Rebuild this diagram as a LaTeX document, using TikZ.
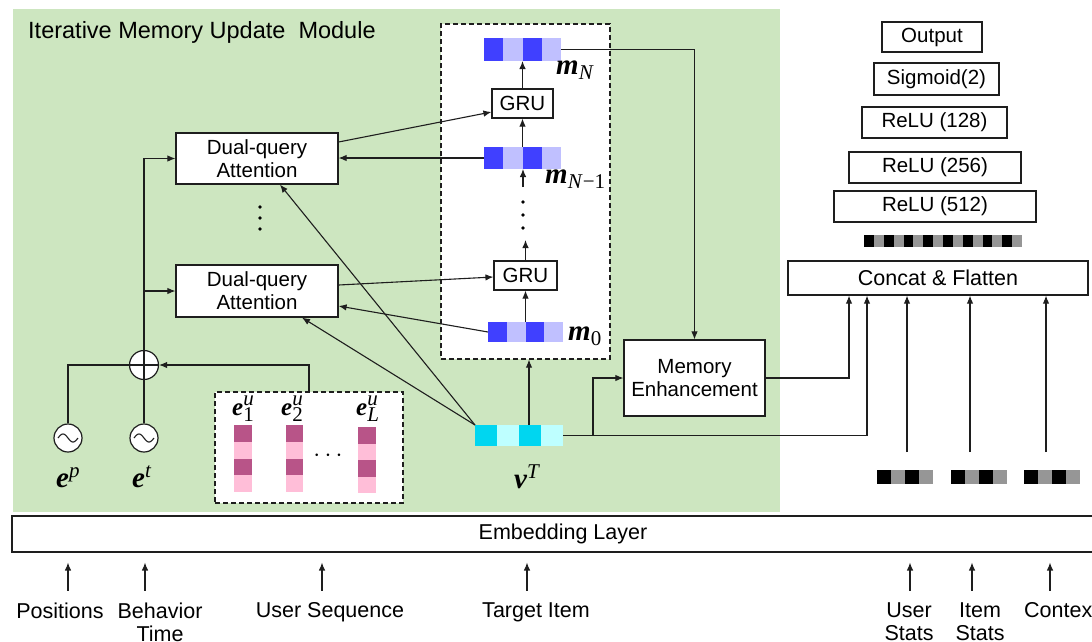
\documentclass[tikz,border=0pt]{standalone}
\usepackage{fontspec}
\setmainfont{Liberation Sans}
\newfontfamily\tms{Liberation Serif}
\usetikzlibrary{arrows.meta}
\definecolor{bgG}{RGB}{205,230,192}
\definecolor{bD}{RGB}{64,64,255}
\definecolor{bL}{RGB}{192,192,255}
\definecolor{pD}{RGB}{184,84,136}
\definecolor{pL}{RGB}{255,190,216}
\definecolor{cD}{RGB}{0,214,240}
\definecolor{cL}{RGB}{190,255,255}
\definecolor{gM}{RGB}{150,150,150}
\definecolor{ink}{RGB}{30,30,30}
\newcommand\bfit{\tms\bfseries\itshape}
\newcommand\smi{\tms\mdseries\itshape\fontsize{21}{21}\selectfont}
\newcommand\smr{\tms\mdseries\upshape\fontsize{21}{21}\selectfont}
\newcommand\hq[6]{\foreach \k/\c in {0/#5,1/#6,2/#5,3/#6}{\fill[\c] ({#1+\k*#3},#2) rectangle ++(#3,#4);}}
\newcommand\vq[6]{\foreach \k/\c in {0/#5,1/#6,2/#5,3/#6}{\fill[\c] (#1,{#2+\k*#4}) rectangle ++(#3,#4);}}
\tikzset{
 box/.style={draw=ink, fill=white, line width=1.2pt, inner sep=0pt, align=center, font=\fontsize{20.5}{23}\selectfont},
 arr/.style={draw=ink, line width=1.1pt, -{Latex[length=8pt,width=6.5pt]}},
 ln/.style={draw=ink, line width=1.1pt},
 dbox/.style={draw=ink, fill=white, line width=1.2pt, dash pattern=on 5pt off 3pt, inner sep=0pt},
 lbl/.style={inner sep=0pt, font=\fontsize{21.5}{23}\selectfont, align=center},
 vec/.style={inner sep=0pt, outer sep=0pt},
 ml/.style={inner sep=0pt, font=\fontsize{29}{30}\selectfont},
 sml/.style={inner sep=0pt, font=\fontsize{25}{26}\selectfont},
 circ/.style={circle, draw=ink, fill=white, line width=1.2pt, minimum size=28, inner sep=0pt}
}
\begin{document}
\begin{tikzpicture}[x=1pt,y=-1pt]
\useasboundingbox (0,0) rectangle (1092,641);
% green module background
\fill[bgG] (13,9) rectangle (780,512);
\node[anchor=west, inner sep=0pt, font=\fontsize{23.5}{26}\selectfont] (title) at (28,32) {Iterative Memory Update\ \ Module};

% dashed containers
\node[dbox, minimum width=169, minimum height=335] (gcol) at (525.5,191.5) {};
\node[dbox, minimum width=188, minimum height=111] (useq) at (309,447.5) {};

% memory vectors
\hq{484}{38}{19.25}{23}{bD}{bL}
\node[vec, minimum width=77, minimum height=23] (mN) at (522.5,49.5) {};
\hq{484}{147}{19.25}{22}{bD}{bL}
\node[vec, minimum width=77, minimum height=22] (mN1) at (522.5,158) {};
\hq{488}{322}{18.75}{20}{bD}{bL}
\node[vec, minimum width=75, minimum height=20] (m0) at (525.5,332) {};
% target vector
\hq{475}{425}{22}{21}{cD}{cL}
\node[vec, minimum width=88, minimum height=21] (vT) at (519,435.5) {};
% user sequence vectors
\vq{234}{425}{18}{16.75}{pD}{pL}
\node[vec, minimum width=18, minimum height=67] (e1) at (243,458.5) {};
\vq{286}{425}{17}{16.75}{pD}{pL}
\node[vec, minimum width=17, minimum height=67] (e2) at (294.5,458.5) {};
\vq{358}{427}{18}{16.5}{pD}{pL}
\node[vec, minimum width=18, minimum height=66] (eL) at (367,460) {};
\node[inner sep=0pt, font=\fontsize{30}{30}\selectfont] (hd) at (328,456) {$\cdots$};
% stats vectors
\hq{877}{470}{14}{14}{black}{gM}
\node[vec, minimum width=56, minimum height=14] (usv) at (905,477) {};
\hq{951}{470}{14}{14}{black}{gM}
\node[vec, minimum width=56, minimum height=14] (isv) at (979,477) {};
\hq{1024}{470}{14}{14}{black}{gM}
\node[vec, minimum width=56, minimum height=14] (csv) at (1052,477) {};
% flattened vector
\foreach \k in {0,...,7}{\fill[black] ({864+\k*19.75},235) rectangle ++(9.875,12);
  \fill[gM] ({873.875+\k*19.75},235) rectangle ++(9.875,12);}
\node[vec, minimum width=158, minimum height=12] (flat) at (943,241) {};

% boxes
\node[box, minimum width=162, minimum height=51] (dqa1) at (257,158.5) {Dual-query\\Attention};
\node[box, minimum width=162, minimum height=52] (dqa2) at (257,291) {Dual-query\\Attention};
\node[box, minimum width=61, minimum height=29] (gru1) at (522.5,103.5) {GRU};
\node[box, minimum width=63, minimum height=29] (gru2) at (525.5,275.5) {GRU};
\node[box, minimum width=141, minimum height=76] (me) at (694.5,378) {Memory\\Enhancement};
\node[box, minimum width=300, minimum height=34, font=\fontsize{21.5}{24}\selectfont] (concat) at (938,278) {Concat \& Flatten};
\node[box, minimum width=202, minimum height=31] (r512) at (935,206.5) {ReLU (512)};
\node[box, minimum width=172, minimum height=31] (r256) at (935,167.5) {ReLU (256)};
\node[box, minimum width=145, minimum height=31] (r128) at (934.5,122.5) {ReLU (128)};
\node[box, minimum width=125, minimum height=32] (sig) at (936.5,79) {Sigmoid(2)};
\node[box, minimum width=100, minimum height=30] (out) at (932,37) {Output};
\node[box, minimum width=1102, minimum height=36, font=\fontsize{21.5}{24}\selectfont] (emb) at (563,534) {Embedding Layer};

% circles
\node[circ, minimum size=29] (op) at (144,365) {};
\draw[ln] (op.north) -- (op.south) (op.west) -- (op.east);
\node[circ] (ep) at (68,438) {};
\node[circ] (et) at (144,438) {};
\draw[ln, shift={(ep.center)}, domain=-10:10, samples=40, smooth] plot (\x,{4*sin(18*\x)});
\draw[ln, shift={(et.center)}, domain=-10:10, samples=40, smooth] plot (\x,{4*sin(18*\x)});

% vertical dots
\node[vec, minimum width=6, minimum height=30] (vd2) at (523,215) {};
\foreach \yy in {-13,0,13} \fill[black] ([yshift=\yy pt]vd2.center) circle (1.9);
\node[vec, minimum width=6, minimum height=26] (vd1) at (260,218) {};
\foreach \yy in {-11,0,11} \fill[black] ([yshift=\yy pt]vd1.center) circle (1.9);

% math labels
\node[ml, anchor=base west] (lmN) at (556,74) {$\hbox{\bfit m}_{\hbox{\smi N}}$};
\node[ml, anchor=base west] (lmN1) at (545,183) {$\hbox{\bfit m}_{\hbox{\smi N\kern1pt\smr −1}}$};
\node[ml, anchor=base west] (lm0) at (568,340) {$\hbox{\bfit m}_{\hbox{\smr 0}}$};
\node[ml, anchor=base west] (lep) at (56,487) {$\hbox{\bfit e}^{\hbox{\smi p}}$};
\node[ml, anchor=base west] (let) at (132,487) {$\hbox{\bfit e}^{\hbox{\smi t}}$};
\node[ml, anchor=base west] (lvT) at (514,488) {$\hbox{\bfit v}^{\hbox{\smi T}}$};
\node[sml, anchor=base west] (le1) at (232,415) {$\hbox{\bfit e}^{\hbox{\smi u}}_{\hbox{\smr 1}}$};
\node[sml, anchor=base west] (le2) at (281,415) {$\hbox{\bfit e}^{\hbox{\smi u}}_{\hbox{\smr 2}}$};
\node[sml, anchor=base west] (leL) at (356,415) {$\hbox{\bfit e}^{\hbox{\smi u}}_{\hbox{\smi L}}$};

% left input wiring
\draw[ln] (ep.north) |- (op.west);
\draw[ln] (et.north) -- (op.south);
\draw[arr] (useq.north) |- (op.east);
\draw[arr] (op.north) |- (dqa1.west);
\draw[arr] (op.north |- dqa2.west) -- (dqa2.west);

% attention <-> GRU column
\draw[arr] ([yshift=16.5pt]dqa1.east) -- ([yshift=-8.5pt]gru1.west);
\draw[arr] (mN1.west) -- (mN1.west -| dqa1.east);
\draw[arr] ([yshift=6pt]dqa2.east) -- ([yshift=-1.5pt]gru2.west);
\draw[arr] (m0.west) -- ([yshift=-15pt]dqa2.east);
\draw[arr] (vT.north west) -- ([xshift=23pt]dqa1.south);
\draw[arr] (vT.north west) -- ([xshift=45pt]dqa2.south);

% GRU chain
\draw[arr] (mN1.north) -- (gru1.south);
\draw[arr] (gru1.north) -- (mN.south);
\coordinate (vdt) at ([yshift=13pt]vd2.north);
\draw[arr] (vdt) -- (vdt |- mN1.south);
\coordinate (vdb) at ([yshift=-10pt]vd2.south);
\draw[arr] (gru2.north) -- (gru2.north |- vdb);
\draw[arr] (m0.north) -- (gru2.south);
\coordinate (vtup) at ([xshift=10pt]vT.north);
\draw[arr] (vtup) -- (vtup |- gcol.south);

% memory enhancement
\draw[arr] (mN.east) -| (me.north);
\coordinate (br) at ([xshift=30pt]vT.east);
\draw[arr] (vT.east) -- (br) |- (me.west);

% into concat
\coordinate (xa) at (849,0);
\coordinate (xb) at (867,0);
\draw[arr] (me.east) -| (xa |- concat.south);
\draw[arr] (vT.east) -| (xb |- concat.south);
\coordinate (su) at ([xshift=2pt,yshift=18pt]usv.north);
\coordinate (si) at ([xshift=-9pt,yshift=18pt]isv.north);
\coordinate (sc) at ([xshift=-6pt,yshift=18pt]csv.north);
\draw[arr] (su) -- (su |- concat.south);
\draw[arr] (si) -- (si |- concat.south);
\draw[arr] (sc) -- (sc |- concat.south);

% bottom inputs
\node[lbl, anchor=north] (Lpos) at (60,602.5) {Positions};
\node[lbl, anchor=north] (Lbeh) at (160,602.5) {Behavior\\Time};
\node[lbl, anchor=north] (Lus) at (330,602.5) {User Sequence};
\node[lbl, anchor=north] (Ltg) at (536,602.5) {Target Item};
\node[lbl, anchor=north] (Lust) at (909,602.5) {User\\Stats};
\node[lbl, anchor=north] (List) at (980,602.5) {Item\\Stats};
\node[lbl, anchor=north west] (Lctx) at (1024,602.5) {Context};
\draw[arr] ([xshift=8pt,yshift=12pt]Lpos.north) -- ++(0,-28);
\draw[arr] ([xshift=-15pt,yshift=12pt]Lbeh.north) -- ++(0,-28);
\draw[arr] ([xshift=-8pt,yshift=12pt]Lus.north) -- ++(0,-28);
\draw[arr] ([xshift=-9pt,yshift=12pt]Ltg.north) -- ++(0,-28);
\draw[arr] ([xshift=1pt,yshift=12pt]Lust.north) -- ++(0,-28);
\draw[arr] ([xshift=-8pt,yshift=12pt]List.north) -- ++(0,-28);
\draw[arr] ([xshift=26pt,yshift=12pt]Lctx.north west) -- ++(0,-28);
\end{tikzpicture}
\end{document}
